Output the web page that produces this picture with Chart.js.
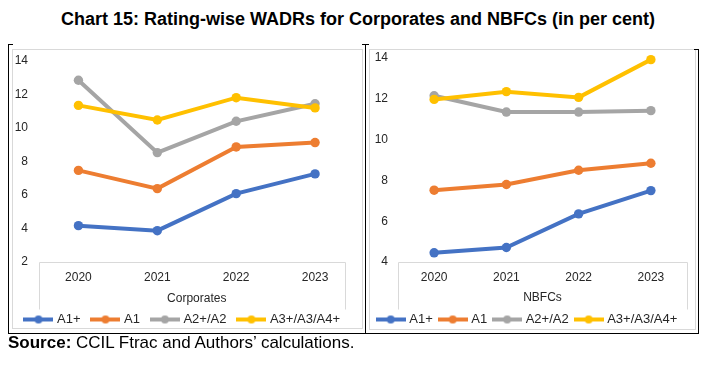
<!DOCTYPE html>
<html>
<head>
<meta charset="utf-8">
<script src="https://cdn.jsdelivr.net/npm/chart.js@4.4.1/dist/chart.umd.min.js"></script>
<style>
  body { margin: 0; width: 708px; height: 367px; background: #fff; position: relative; overflow: hidden;
         font-family: 'Liberation Sans', Arial, sans-serif; }
  #title { position: absolute; left: 8px; top: 10px; width: 700px; text-align: center; line-height: 18px;
           font-weight: bold; font-size: 18px; color: #000; }
  #source { position: absolute; left: 8px; top: 334px; font-size: 17px; line-height: 17px; color: #000; }
  .frame { position: absolute; border: 1px solid #d9d9d9; box-sizing: border-box; }
  .rule { position: absolute; background: #000; }
  canvas { position: absolute; }
</style>
</head>
<body>
<div id="title">Chart 15: Rating-wise WADRs for Corporates and NBFCs (in per cent)</div>

<div class="frame" style="left:12px;top:49px;width:351px;height:280px"></div>
<div class="frame" style="left:369px;top:49px;width:327px;height:281px"></div>

<!-- table cell rules -->
<div class="rule" style="left:8px;top:44px;width:1px;height:290px"></div>
<div class="rule" style="left:8px;top:44px;width:5px;height:1px"></div>
<div class="rule" style="left:365px;top:44px;width:1px;height:290px"></div>
<div class="rule" style="left:362px;top:44px;width:7px;height:1px"></div>
<div class="rule" style="left:698px;top:49px;width:1px;height:285px"></div>
<div class="rule" style="left:694px;top:49px;width:5px;height:1px"></div>
<div class="rule" style="left:8px;top:333px;width:691px;height:1px"></div>

<canvas id="corp" width="350" height="287" style="left:12px;top:49px"></canvas>
<canvas id="nbfc" width="326" height="287" style="left:369px;top:49px"></canvas>

<div id="source"><b>Source:</b> CCIL Ftrac and Authors’ calculations.</div>

<script>
const years = ['2020', '2021', '2022', '2023'];
const seriesNames = ['A1+', 'A1', 'A2+/A2', 'A3+/A3/A4+'];
const seriesColors = ['#4472C4', '#ED7D31', '#A5A5A5', '#FFC000'];

// Corporates
const corpA1p = [4.17, 3.87, 6.08, 7.26];
const corpA1 = [7.47, 6.38, 8.87, 9.13];
const corpA2 = [12.85, 8.53, 10.40, 11.45];
const corpA3 = [11.35, 10.48, 11.81, 11.20];
const corpTicks = [2, 4, 6, 8, 10, 12, 14];

// NBFCs
const nbfcA1p = [4.45, 4.71, 6.36, 7.50];
const nbfcA1 = [7.52, 7.80, 8.50, 8.84];
const nbfcA2 = [12.15, 11.35, 11.35, 11.42];
const nbfcA3 = [11.97, 12.35, 12.07, 13.92];
const nbfcTicks = [4, 6, 8, 10, 12, 14];

const FONT = "'Liberation Sans', Arial, sans-serif";
const TEXT = '#262626';

// legend marker: thick line with a dot in the middle
function markerFor(color) {
  const c = document.createElement('canvas');
  c.width = 30; c.height = 10;
  const g = c.getContext('2d');
  g.strokeStyle = color;
  g.lineWidth = 4;
  g.beginPath(); g.moveTo(0, 5); g.lineTo(30, 5); g.stroke();
  g.fillStyle = color;
  g.beginPath(); g.arc(15, 5, 4, 0, Math.PI * 2); g.fill();
  return c;
}
const markers = seriesColors.map(markerFor);

// light grey box around the category labels (Excel style)
const axisBox = {
  id: 'axisBox',
  beforeDatasetsDraw(chart, args, opts) {
    const {ctx, chartArea} = chart;
    const l = Math.round(chartArea.left) + 0.5;
    const r = Math.round(chartArea.right - (opts.inset || 0)) + 0.5;
    const t = Math.round(chartArea.bottom) + 0.5;
    const b = t + 47;
    ctx.save();
    ctx.strokeStyle = '#d9d9d9';
    ctx.lineWidth = 1;
    ctx.beginPath();
    ctx.moveTo(l, b); ctx.lineTo(l, t); ctx.lineTo(r, t); ctx.lineTo(r, b);
    ctx.stroke();
    ctx.restore();
  }
};

function makeChart(id, series, ticks, axisTitle, cfg) {
  const canvas = document.getElementById(id);
  // x axis fills the gap between the plot bottom (211) and the legend
  const xHeight = canvas.height - 236 - cfg.legendPad;
  return new Chart(canvas.getContext('2d'), {
    type: 'line',
    data: {
      labels: years,
      datasets: series.map((data, i) => ({
        label: seriesNames[i],
        data,
        borderColor: seriesColors[i],
        backgroundColor: seriesColors[i],
        borderWidth: 4,
        pointRadius: 4.7,
        pointBorderWidth: 0,
        pointBackgroundColor: seriesColors[i],
        order: series.length - i,
        clip: false,
        tension: 0
      }))
    },
    options: {
      responsive: false,
      animation: false,
      events: [],
      layout: { padding: { left: 0, right: cfg.right, top: cfg.top, bottom: 0 } },
      scales: {
        x: {
          offset: true,
          grid: { display: false, drawTicks: false },
          border: { display: false },
          ticks: { color: TEXT, font: { family: FONT, size: 12 }, padding: 8, maxRotation: 0 },
          title: { display: true, text: axisTitle, color: TEXT, font: { family: FONT, size: 12 },
                   padding: { top: 0, bottom: cfg.titlePad } },
          afterFit(scale) { scale.height = xHeight; }
        },
        y: {
          min: ticks[0],
          max: ticks[ticks.length - 1],
          // invisible tick marks give the gap between labels and plot
          grid: { display: true, drawOnChartArea: false, drawTicks: true, tickLength: cfg.tickGap, color: 'rgba(0,0,0,0)' },
          border: { display: false },
          ticks: { stepSize: ticks[1] - ticks[0], color: TEXT, font: { family: FONT, size: 12 },
                   crossAlign: 'near', padding: 0 },
          afterFit(scale) { scale.width = cfg.yWidth; }
        }
      },
      plugins: {
        axisBox: { inset: cfg.inset },
        tooltip: { enabled: false },
        legend: {
          position: 'bottom',
          labels: {
            usePointStyle: true,
            pointStyleWidth: 24,
            padding: cfg.legendPad,
            color: TEXT,
            font: { family: FONT, size: 13 },
            generateLabels(chart) {
              return chart.data.datasets.map((ds, i) => ({
                text: ds.label,
                pointStyle: markers[i],
                fillStyle: ds.borderColor,
                strokeStyle: ds.borderColor,
                lineWidth: 0,
                fontColor: TEXT,
                hidden: false,
                datasetIndex: i
              }));
            }
          }
        }
      }
    },
    plugins: [axisBox]
  });
}

makeChart('corp', [corpA1p, corpA1, corpA2, corpA3], corpTicks, 'Corporates',
  { right: 7.5, top: 12, yWidth: 27, tickGap: 11, legendPad: 13, titlePad: -6, inset: 9.5 });
makeChart('nbfc', [nbfcA1p, nbfcA1, nbfcA2, nbfcA3], nbfcTicks, 'NBFCs',
  { right: 8, top: 9, yWidth: 29, tickGap: 10, legendPad: 8, titlePad: 0, inset: 0 });
</script>
</body>
</html>
